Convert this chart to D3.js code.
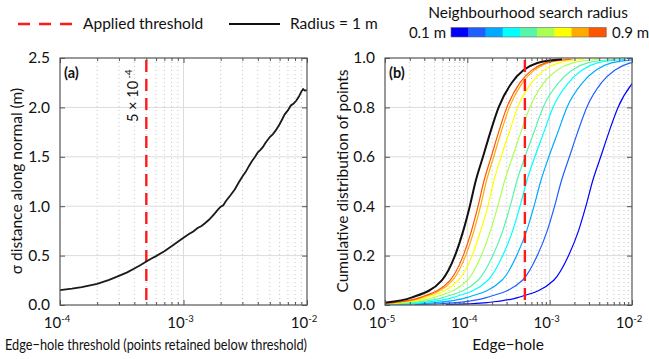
<!DOCTYPE html>
<html><head><meta charset="utf-8">
<script src="https://cdn.jsdelivr.net/npm/d3@7"></script>
<style>
body{margin:0;background:#fff}
svg{display:block}
text{font-family:Lato, "Open Sans", sans-serif; fill:#111}
</style>
</head><body>
<svg id="chart" width="649" height="359"></svg>
<script>
// ---------- DATA ----------
// Panel (a): sigma distance along normal vs edge-hole threshold
const thresholdsA = [1.0e-4,1.25e-4,1.5e-4,2.0e-4,2.5e-4,3.0e-4,3.5e-4,4.0e-4,4.5e-4,5.0e-4,5.5e-4,6.0e-4,7.0e-4,8.0e-4,9.0e-4,
  1.0e-3,1.1e-3,1.2e-3,1.3e-3,1.4e-3,1.5e-3,1.6e-3,1.7e-3,1.8e-3,1.9e-3,2.0e-3,2.1e-3,2.2e-3,2.4e-3,2.6e-3,2.8e-3,3.0e-3,3.2e-3,3.4e-3,3.6e-3,3.8e-3,
  4.0e-3,4.2e-3,4.4e-3,4.6e-3,4.8e-3,5.0e-3,5.3e-3,5.6e-3,6.0e-3,6.3e-3,6.6e-3,7.0e-3,7.4e-3,7.8e-3,8.2e-3,8.6e-3,9.0e-3,9.3e-3,9.6e-3,1.0e-2];
const sigmaA = [0.150,0.165,0.180,0.215,0.255,0.295,0.330,0.370,0.405,0.440,0.470,0.495,0.545,0.595,0.640,
  0.680,0.715,0.745,0.780,0.800,0.830,0.860,0.895,0.930,0.965,0.995,1.010,1.050,1.110,1.170,1.240,1.300,1.350,1.410,1.460,1.500,
  1.545,1.570,1.600,1.640,1.670,1.700,1.730,1.770,1.830,1.880,1.930,1.970,2.020,2.040,2.070,2.110,2.160,2.185,2.170,2.175];
const appliedThreshold = 5e-4;

// Panel (b): cumulative distribution; edge-hole value (log10) reached at each cumulative level
const cdfLevels = [0.002,0.01,0.03,0.1,0.2,0.3,0.4,0.5,0.6,0.7,0.8,0.9,0.95,0.98,0.995];
const edgeHoleR01 = [-4.26,-3.755,-3.39,-2.95,-2.77,-2.65,-2.56,-2.48,-2.38,-2.28,-2.17,-1.99,-1.83,-1.64,-1.29];
const edgeHoleR02 = [-4.64,-4.13,-3.77,-3.33,-3.15,-3.03,-2.94,-2.86,-2.76,-2.66,-2.55,-2.37,-2.21,-2.02,-1.67];
const edgeHoleR03 = [-4.89,-4.375,-4.01,-3.58,-3.40,-3.28,-3.19,-3.11,-3.01,-2.90,-2.79,-2.60,-2.44,-2.25,-1.90];
const edgeHoleR04 = [-5.06,-4.545,-4.18,-3.75,-3.57,-3.45,-3.36,-3.28,-3.18,-3.07,-2.96,-2.77,-2.61,-2.42,-2.07];
const edgeHoleR05 = [-5.18,-4.67,-4.30,-3.87,-3.69,-3.57,-3.48,-3.40,-3.30,-3.19,-3.08,-2.89,-2.73,-2.54,-2.19];
const edgeHoleR06 = [-5.26,-4.76,-4.41,-4.00,-3.83,-3.72,-3.63,-3.55,-3.45,-3.35,-3.24,-3.07,-2.91,-2.72,-2.40];
const edgeHoleR07 = [-5.31,-4.84,-4.50,-4.11,-3.94,-3.84,-3.75,-3.68,-3.59,-3.49,-3.39,-3.22,-3.07,-2.89,-2.58];
const edgeHoleR08 = [-5.32,-4.87,-4.55,-4.18,-4.02,-3.92,-3.84,-3.77,-3.68,-3.59,-3.49,-3.33,-3.19,-3.02,-2.72];
const edgeHoleR09 = [-5.35,-4.90,-4.58,-4.21,-4.05,-3.95,-3.87,-3.80,-3.71,-3.62,-3.52,-3.36,-3.22,-3.05,-2.75];
const edgeHoleR10 = [-5.45,-5.00,-4.68,-4.31,-4.15,-4.05,-3.97,-3.90,-3.81,-3.72,-3.62,-3.46,-3.32,-3.15,-2.85];
const radii = [0.1,0.2,0.3,0.4,0.5,0.6,0.7,0.8,0.9,1.0];
const radiusCurves = [edgeHoleR01,edgeHoleR02,edgeHoleR03,edgeHoleR04,edgeHoleR05,edgeHoleR06,edgeHoleR07,edgeHoleR08,edgeHoleR09,edgeHoleR10];
const radiusColors = ["#0000ff","#1f5fff","#00aaff","#00ffff","#55f5aa","#aaff55","#ffff00","#ffaa00","#ff5500","#111111"];

const yTicksA = [0,0.5,1.0,1.5,2.0,2.5];
const yTicksB = [0,0.2,0.4,0.6,0.8,1.0];
const decadesA = [-4,-3,-2];
const decadesB = [-5,-4,-3,-2];

// ---------- CHART ----------
const svg = d3.select("#chart");
const plotTop = 58, plotBottom = 305;
const frameColor = "#555";

function minorTicks(domainExp){
  const out=[];
  for(let e=domainExp[0]; e<domainExp[1]; e++) for(let k=2;k<=9;k++) out.push(k*Math.pow(10,e));
  return out;
}

function panel(opts){
  const g = svg.append("g");
  const x = d3.scaleLog().domain(opts.xDomain).range([opts.left,opts.right]);
  const y = d3.scaleLinear().domain(opts.yDomain).range([plotBottom,plotTop]);
  const minors = minorTicks([Math.round(Math.log10(opts.xDomain[0])), Math.round(Math.log10(opts.xDomain[1]))]);
  const majors = opts.decades.map(d=>Math.pow(10,d));
  g.append("g").selectAll("line").data(minors).join("line")
    .attr("x1",d=>x(d)).attr("x2",d=>x(d)).attr("y1",plotTop).attr("y2",plotBottom)
    .attr("stroke","#c4c4c4").attr("stroke-width",1).attr("stroke-dasharray","1,3");
  g.append("g").selectAll("line").data(majors.slice(1,-1)).join("line")
    .attr("x1",d=>x(d)).attr("x2",d=>x(d)).attr("y1",plotTop).attr("y2",plotBottom)
    .attr("stroke","#dcdcdc").attr("stroke-width",1);
  g.append("g").selectAll("line").data(opts.yTicks.slice(1,-1)).join("line")
    .attr("x1",opts.left).attr("x2",opts.right).attr("y1",d=>y(d)).attr("y2",d=>y(d))
    .attr("stroke","#dcdcdc").attr("stroke-width",1);
  return {g,x,y,minors,majors};
}

function axesAndFrame(p, opts){
  const {g,x,y,minors,majors} = p;
  const st = sel => { sel.select(".domain").remove(); sel.selectAll("line").attr("stroke",frameColor); };
  g.append("g").attr("transform",`translate(0,${plotBottom})`).call(d3.axisBottom(x).tickValues(minors).tickSize(-3).tickFormat("")).call(st);
  g.append("g").attr("transform",`translate(0,${plotBottom})`).call(d3.axisBottom(x).tickValues(majors).tickSize(-5).tickFormat("")).call(st);
  g.append("g").attr("transform",`translate(0,${plotTop})`).call(d3.axisTop(x).tickValues(minors).tickSize(-3).tickFormat("")).call(st);
  g.append("g").attr("transform",`translate(0,${plotTop})`).call(d3.axisTop(x).tickValues(majors).tickSize(-5).tickFormat("")).call(st);
  const ya = g.append("g").attr("transform",`translate(${opts.left},0)`)
    .call(d3.axisLeft(y).tickValues(opts.yTicks).tickSize(-5).tickPadding(10).tickFormat(d3.format(".1f"))).call(st);
  ya.selectAll("text").attr("font-size",15.5).attr("fill","#111").style("font-family","Lato, sans-serif");
  g.append("g").attr("transform",`translate(${opts.right},0)`).call(d3.axisRight(y).tickValues(opts.yTicks).tickSize(-5).tickFormat("")).call(st);
  const lab = g.append("g").selectAll("text").data(opts.decades).join("text")
    .attr("x",d=>x(Math.pow(10,d))-3).attr("y",plotBottom+23).attr("text-anchor","middle").attr("font-size",15);
  lab.append("tspan").text("10");
  lab.append("tspan").attr("dy",-6).attr("font-size",9.5).text(d=>String(d));
  g.append("rect").attr("x",opts.left).attr("y",plotTop).attr("width",opts.right-opts.left).attr("height",plotBottom-plotTop)
    .attr("fill","none").attr("stroke",frameColor).attr("stroke-width",1.2);
}

// Panel (a)
const optsA = {xDomain:[1e-4,1e-2], yDomain:[0,2.5], left:60, right:307, yTicks:yTicksA, decades:decadesA};
const pA = panel(optsA);
pA.g.append("line").attr("x1",pA.x(appliedThreshold)).attr("x2",pA.x(appliedThreshold)).attr("y1",plotTop+2).attr("y2",plotBottom)
  .attr("stroke","#ff1a1a").attr("stroke-width",2.4).attr("stroke-dasharray","12,7");
const ptsA = thresholdsA.map((t,i)=>[t,sigmaA[i]]);
pA.g.append("path").datum(ptsA).attr("fill","none").attr("stroke","#1a1a1a").attr("stroke-width",1.8)
  .attr("d", d3.line().x(d=>pA.x(d[0])).y(d=>pA.y(d[1])));
axesAndFrame(pA, optsA);
pA.g.append("text").attr("x",64).attr("y",78).attr("font-size",14.5).attr("font-weight","bold").text("(a)");
const lblA = pA.g.append("text").attr("transform",`translate(${pA.x(appliedThreshold)-8},122) rotate(-90)`).attr("font-size",14.5);
lblA.append("tspan").text("5 × 10");
lblA.append("tspan").attr("dy",-6).attr("font-size",9.5).text(" -4");

// Panel (b)
const optsB = {xDomain:[1e-5,1e-2], yDomain:[0,1], left:385, right:632, yTicks:yTicksB, decades:decadesB};
const pB = panel(optsB);
svg.append("defs").append("clipPath").attr("id","clipB").append("rect")
  .attr("x",optsB.left).attr("y",plotTop-2).attr("width",optsB.right-optsB.left).attr("height",plotBottom-plotTop+2);
const lineB = d3.line().x(d=>pB.x(Math.pow(10,d[0]))).y(d=>pB.y(d[1])).curve(d3.curveMonotoneX);
const curvesG = pB.g.append("g").attr("clip-path","url(#clipB)");
radiusCurves.forEach((c,i)=>{
  curvesG.append("path").datum(c.map((v,j)=>[v,cdfLevels[j]]))
    .attr("fill","none").attr("stroke",radiusColors[i]).attr("stroke-width", radii[i]===1.0?2:1.2)
    .attr("d",lineB);
});
curvesG.append("line").attr("x1",pB.x(appliedThreshold)).attr("x2",pB.x(appliedThreshold)).attr("y1",plotTop+2).attr("y2",plotBottom)
  .attr("stroke","#ff1a1a").attr("stroke-width",2.4).attr("stroke-dasharray","12,7");
axesAndFrame(pB, optsB);
pB.g.append("text").attr("x",389).attr("y",78).attr("font-size",14.5).attr("font-weight","bold").text("(b)");

// Axis titles
svg.append("text").attr("x",5).attr("y",350).attr("font-size",15.5)
  .attr("textLength",302).attr("lengthAdjust","spacingAndGlyphs")
  .text("Edge\u2212hole threshold (points retained below threshold)");
svg.append("text").attr("x",508).attr("y",350).attr("text-anchor","middle").attr("font-size",15.5).text("Edge\u2212hole");
svg.append("text").attr("transform","translate(22,181) rotate(-90)").attr("text-anchor","middle").attr("font-size",15.5)
  .text("\u03c3 distance along normal (m)");
svg.append("text").attr("transform","translate(348,181) rotate(-90)").attr("text-anchor","middle").attr("font-size",15.5)
  .text("Cumulative distribution of points");

// Legend
svg.append("line").attr("x1",18).attr("x2",72).attr("y1",24).attr("y2",24)
  .attr("stroke","#ff1a1a").attr("stroke-width",2.4).attr("stroke-dasharray","12,9");
svg.append("text").attr("x",83).attr("y",29).attr("font-size",15.5).text("Applied threshold");
svg.append("line").attr("x1",229).attr("x2",280).attr("y1",24).attr("y2",24).attr("stroke","#111").attr("stroke-width",2);
svg.append("text").attr("x",290).attr("y",29).attr("font-size",15.5).text("Radius = 1 m");

// Colour bar
svg.append("text").attr("x",528).attr("y",18).attr("text-anchor","middle").attr("font-size",15.5).text("Neighbourhood search radius");
const cbColors = radiusColors.slice(0,9);
const cb = d3.scaleBand().domain(d3.range(cbColors.length)).range([451,606]);
svg.append("g").selectAll("rect").data(cbColors).join("rect")
  .attr("x",(d,i)=>cb(i)).attr("y",27.5).attr("width",cb.bandwidth()+0.5).attr("height",9.5).attr("fill",d=>d);
svg.append("rect").attr("x",451).attr("y",27.5).attr("width",155).attr("height",9.5).attr("fill","none").attr("stroke","#666").attr("stroke-width",0.6);
svg.append("text").attr("x",446).attr("y",38).attr("text-anchor","end").attr("font-size",15).text(radii[0].toFixed(1)+" m");
svg.append("text").attr("x",612).attr("y",38).attr("font-size",15).text(radii[8].toFixed(1)+" m");
</script>
</body></html>
